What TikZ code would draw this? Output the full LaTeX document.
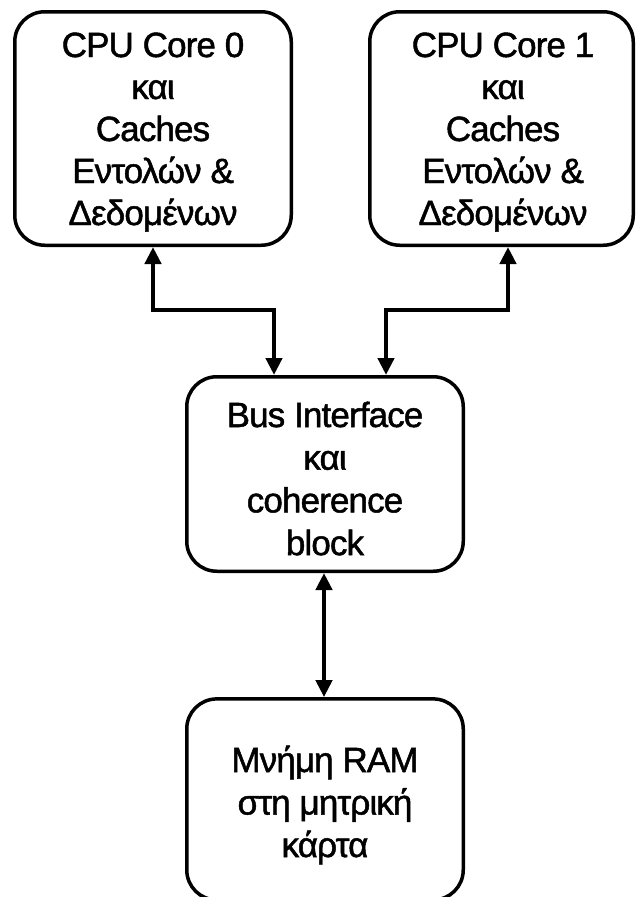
\documentclass[tikz,border=0pt]{standalone}
\usepackage{fontspec}
\setmainfont{Liberation Sans}[FakeBold=1.4,LetterSpace=-2.5]
\usetikzlibrary{arrows.meta}
\newcommand\boxlines[2]{\vtop{\baselineskip=#1\lineskiplimit=-1000pt\lineskip=0pt
  \halign{\hfil##\hfil\cr#2\crcr}}}
\begin{document}
\begin{tikzpicture}[x=1pt,y=-1pt,
  box/.style={draw=black,line width=3.5pt,rounded corners=30pt,inner sep=0pt},
  txt/.style={anchor=base,inner sep=0pt,font=\fontsize{35}{43}\selectfont},
  bi/.style={line width=4.5pt,{Triangle[width=16pt,length=17pt]}-{Triangle[width=16pt,length=17pt]}}]
\useasboundingbox (0,0) rectangle (637,897);
\clip (0,0) rectangle (637,897);
\fill[white] (0,0) rectangle (637,897);
\node[box,minimum width=276.5pt,minimum height=233.5pt] (c0) at (153,128.5) {};
\node[txt] (c0t) at (153,57)
  {\boxlines{42pt}{CPU Core 0\cr και\cr Caches\cr Εντολών \&\cr Δεδομένων}};
\node[box,minimum width=263.5pt,minimum height=233.5pt] (c1) at (501.5,128.5) {};
\node[txt] (c1t) at (503,57)
  {\boxlines{42pt}{CPU Core 1\cr και\cr Caches\cr Εντολών \&\cr Δεδομένων}};
\node[box,minimum width=276.5pt,minimum height=194.5pt] (bus) at (325,474) {};
\node[txt] (bust) at (325,427)
  {\boxlines{42.7pt}{Bus Interface\cr και\cr coherence\cr block}};
\node[box,minimum width=276.5pt,minimum height=201pt] (ram) at (325,799.4) {};
\node[txt] (ramt) at (325,772)
  {\boxlines{42.5pt}{Μνήμη RAM\cr στη μητρική\cr κάρτα}};
\draw[bi] (c0.south) -- ++(0,63) -| ([xshift=-51pt]bus.north);
\draw[bi] ([xshift=6.5pt]c1.south) -- ++(0,63) -| ([xshift=61pt]bus.north);
\draw[bi] ([xshift=-1pt]bus.south) -- ([xshift=-1pt]bus.south |- ram.north);
\end{tikzpicture}
\end{document}
